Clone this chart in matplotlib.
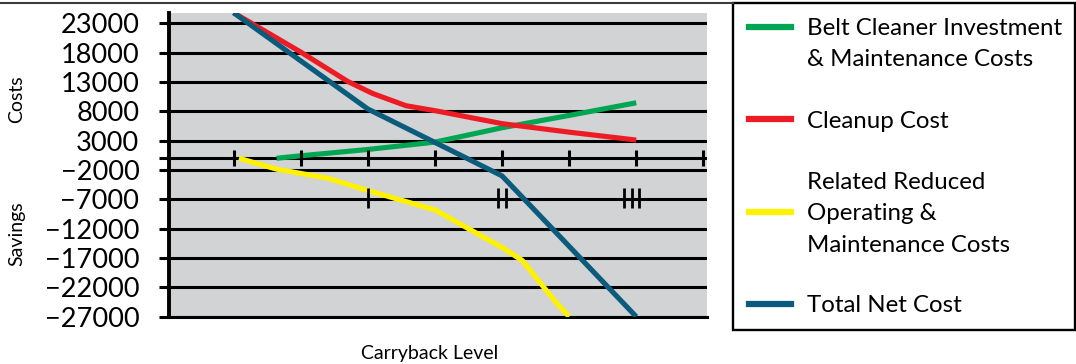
import matplotlib
matplotlib.use("Agg")
import numpy as np
import matplotlib.pyplot as plt
from matplotlib.lines import Line2D
from matplotlib.patches import Rectangle
from matplotlib.transforms import ScaledTranslation

# ---- data -------------------------------------------------------------
levels = [1, 2, 3, 4, 5, 6, 7, 8]
y_ticks = [23000, 18000, 13000, 8000, 3000, 0, -2000, -7000,
           -12000, -17000, -22000, -27000]

belt_x = [1.64, 2, 3, 3.6, 4, 5, 6, 7]
belt_y = [0, 420, 1500, 2250, 2750, 5200, 7300, 9450]

cleanup_x = [1, 2, 2.7, 3.07, 3.57, 4.03, 5, 6, 7]
cleanup_y = [24800, 18100, 13100, 11050, 8950, 8050, 5900, 4450, 3100]

reduced_x = [1.08, 1.64, 2.4, 3, 4, 5, 5.3, 5.8, 6.0]
reduced_y = [0, -1850, -3400, -5500, -8800, -15200, -17400, -24500, -27000]

net_x = [1, 2, 3, 4, 5, 6, 7]
net_y = [24800, 16600, 8400, 2700, -3000, -15000, -27000]

grade_levels = [3, 5, 6.93]
grade_counts = [1, 2, 3]

series_labels = ["Belt Cleaner Investment\n& Maintenance Costs",
                 "Cleanup Cost",
                 "Related Reduced\nOperating &\nMaintenance Costs",
                 "Total Net Cost"]
series_colors = ["#00a651", "#ed1c24", "#fff200", "#0b5b7c"]

# ---- figure -------------------------------------------------------------
W, H = 1076, 364
fig = plt.figure(figsize=(W / 100, H / 100), dpi=100)
FONT = "Lato"


def fx(px):
    return px / W


def fy(py):
    return 1 - py / H


ax = fig.add_axes([fx(168.5), fy(316.7), fx(706.7) - fx(168.5), fy(12.5) - fy(316.7)])
ax.set_facecolor("#d1d3d4")
ax.set_xlim(0.03, 8.05)
ax.set_ylim(-27000, 24840)

for s in ("top", "right"):
    ax.spines[s].set_visible(False)
ax.spines["left"].set_linewidth(2.8)
ax.spines["bottom"].set_linewidth(2.2)
ax.spines["left"].set_zorder(6)

for v in y_ticks:
    ax.axhline(v, color="black", lw=2.2, zorder=1)

tick_labels = ["" if v == 0 else str(v).replace("-", "\u2212") for v in y_ticks]
ax.set_yticks(y_ticks, tick_labels)
ax.set_xticks([])
ax.tick_params(axis="y", direction="out", length=7, width=2.2, pad=14,
               labelsize=19.5, colors="black")
for lab in ax.get_yticklabels():
    lab.set_fontfamily(FONT)

series = [(belt_x, belt_y), (cleanup_x, cleanup_y),
          (reduced_x, reduced_y), (net_x, net_y)]
for (xs, ys), c in zip(series, series_colors):
    ax.plot(xs, ys, color=c, lw=3.7, solid_joinstyle="round",
            solid_capstyle="butt", zorder=3)

# level ticks on the zero line
ax.plot(levels, [0] * len(levels), ls="none", marker="|", ms=11, mew=2.2,
        color="black", zorder=5, clip_on=False)

# grade marks I, II, III
for lvl, n in zip(grade_levels, grade_counts):
    for k in range(n):
        off = (k - (n - 1) / 2) * 5.5 / 72
        tr = ax.transData + ScaledTranslation(off, 0, fig.dpi_scale_trans)
        ax.plot([lvl], [-6700], ls="none", marker="|", ms=15, mew=2.0,
                color="black", transform=tr, zorder=5)

# axis captions
fig.text(fx(17), fy(99), "Costs", rotation=90, ha="center", va="center",
         fontsize=14, family=FONT)
fig.text(fx(17), fy(234), "Savings", rotation=90, ha="center", va="center",
         fontsize=14, family=FONT)
fig.text(fx(430), fy(353), "Carryback Level", ha="center", va="center",
         fontsize=14, family=FONT)

# frame line along the top
fig.add_artist(Line2D([0, fx(733)], [fy(3.3)] * 2, color="#3c3c3c", lw=1.5))

# legend panel
fig.add_artist(Rectangle((fx(733), fy(330)), fx(1075) - fx(733), fy(3) - fy(330),
                         transform=fig.transFigure, fill=False, lw=1.7,
                         ec="black"))
first_line_y = [26.5, 119, 180.5, 304]
handle_line = [0, 0, 1, 0]
pitch = 31.3
for lab, c, y0, hl in zip(series_labels, series_colors, first_line_y, handle_line):
    hy = y0 + hl * pitch
    fig.add_artist(Line2D([fx(749), fx(791)], [fy(hy)] * 2, color=c, lw=4.5))
    for i, line in enumerate(lab.split("\n")):
        fig.text(fx(807), fy(y0 + i * pitch + 8.5), line, ha="left",
                 va="baseline", fontsize=17.3, family=FONT)

fig.savefig("out.png", dpi=100)
